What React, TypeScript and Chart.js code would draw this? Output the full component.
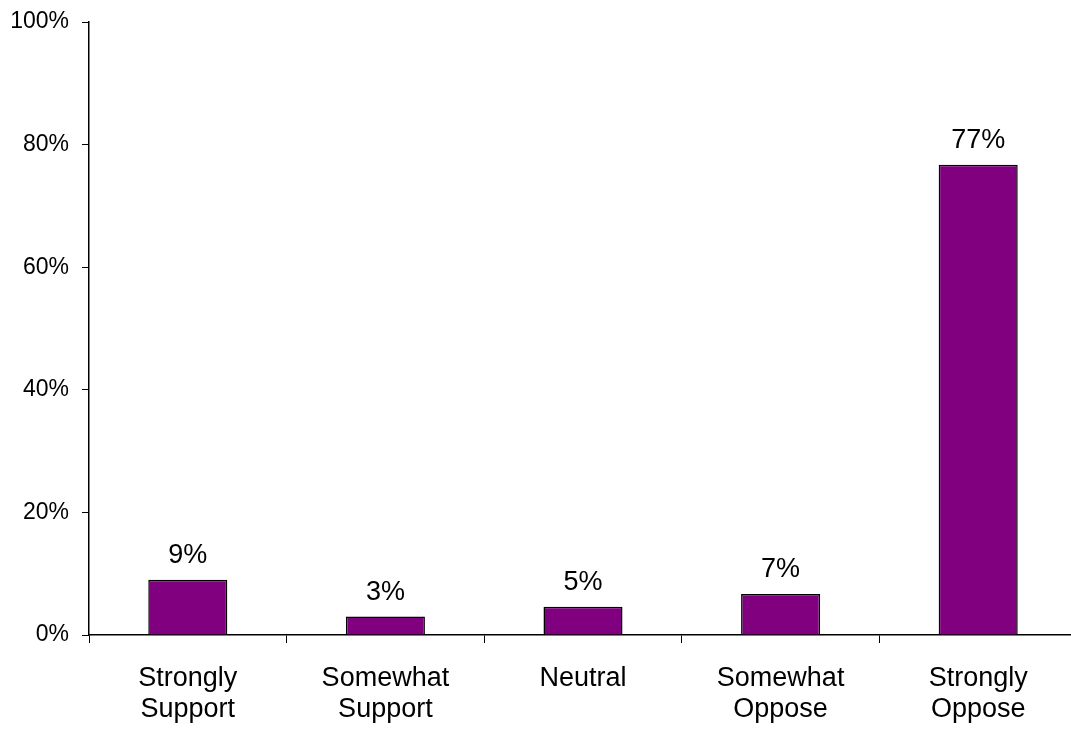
import React, { useEffect, useRef } from "react";
import { Chart, registerables } from "chart.js";

Chart.register(...registerables);

const categories: string[][] = [
  ["Strongly", "Support"],
  ["Somewhat", "Support"],
  ["Neutral"],
  ["Somewhat", "Oppose"],
  ["Strongly", "Oppose"],
];
const values: number[] = [9.0, 3.0, 4.6, 6.7, 76.7];
const valueLabels: string[] = ["9%", "3%", "5%", "7%", "77%"];
const yTicks: number[] = [0, 20, 40, 60, 80, 100];

const FONT = "'Liberation Sans', Arial, sans-serif";

const dataLabelPlugin = {
  id: "dataLabels",
  afterDatasetsDraw(chart: any) {
    const ctx = chart.ctx;
    const meta = chart.getDatasetMeta(0);
    ctx.save();
    ctx.fillStyle = "#000";
    ctx.font = `27px ${FONT}`;
    ctx.textAlign = "center";
    ctx.textBaseline = "alphabetic";
    meta.data.forEach((bar: any, i: number) => {
      ctx.fillText(valueLabels[i], bar.x, bar.y - 17);
    });
    ctx.restore();
  },
};

export default function App() {
  const ref = useRef<HTMLCanvasElement>(null);
  useEffect(() => {
    if (!ref.current) return;
    const chart = new Chart(ref.current, {
      type: "bar",
      data: {
        labels: categories,
        datasets: [
          {
            data: values,
            backgroundColor: "#800080",
            borderColor: "#000000",
            borderWidth: 1.5,
            barPercentage: 0.4,
            categoryPercentage: 1,
          },
        ],
      },
      options: {
        animation: false,
        responsive: false,
        maintainAspectRatio: false,
        layout: { padding: { top: 22, left: 0, right: 0, bottom: 0 } },
        plugins: { legend: { display: false }, tooltip: { enabled: false } },
        scales: {
          x: {
            offset: true,
            grid: {
              offset: true,
              display: true,
              drawOnChartArea: false,
              drawTicks: true,
              tickLength: 8,
              color: "#000",
            },
            border: { display: true, color: "#000", width: 1.5 },
            ticks: {
              color: "#000",
              font: { family: FONT, size: 27, lineHeight: 1.15 },
              padding: 20,
              maxRotation: 0,
              autoSkip: false,
            },
            afterFit(scale: any) {
              scale.height = 94;
              scale.paddingLeft = 0;
              scale.paddingRight = 0;
            },
          },
          y: {
            min: 0,
            max: 100,
            afterBuildTicks(scale: any) {
              scale.ticks = yTicks.map((v) => ({ value: v }));
            },
            grid: {
              display: true,
              drawOnChartArea: false,
              drawTicks: true,
              tickLength: 7,
              color: "#000",
            },
            border: { display: true, color: "#000", width: 1.5 },
            ticks: {
              color: "#000",
              font: { family: FONT, size: 23 },
              padding: 13,
              callback: (v: any) => `${v}%`,
            },
            afterFit(scale: any) {
              scale.width = 89;
              scale.paddingTop = 0;
              scale.paddingBottom = 0;
            },
          },
        },
      },
      plugins: [dataLabelPlugin],
    });
    return () => chart.destroy();
  }, []);
  return (
    <div style={{ position: "fixed", left: 0, top: 0, width: 1077, height: 729, background: "#fff" }}>
      <canvas ref={ref} width={1077} height={729} style={{ width: 1077, height: 729 }} />
    </div>
  );
}
